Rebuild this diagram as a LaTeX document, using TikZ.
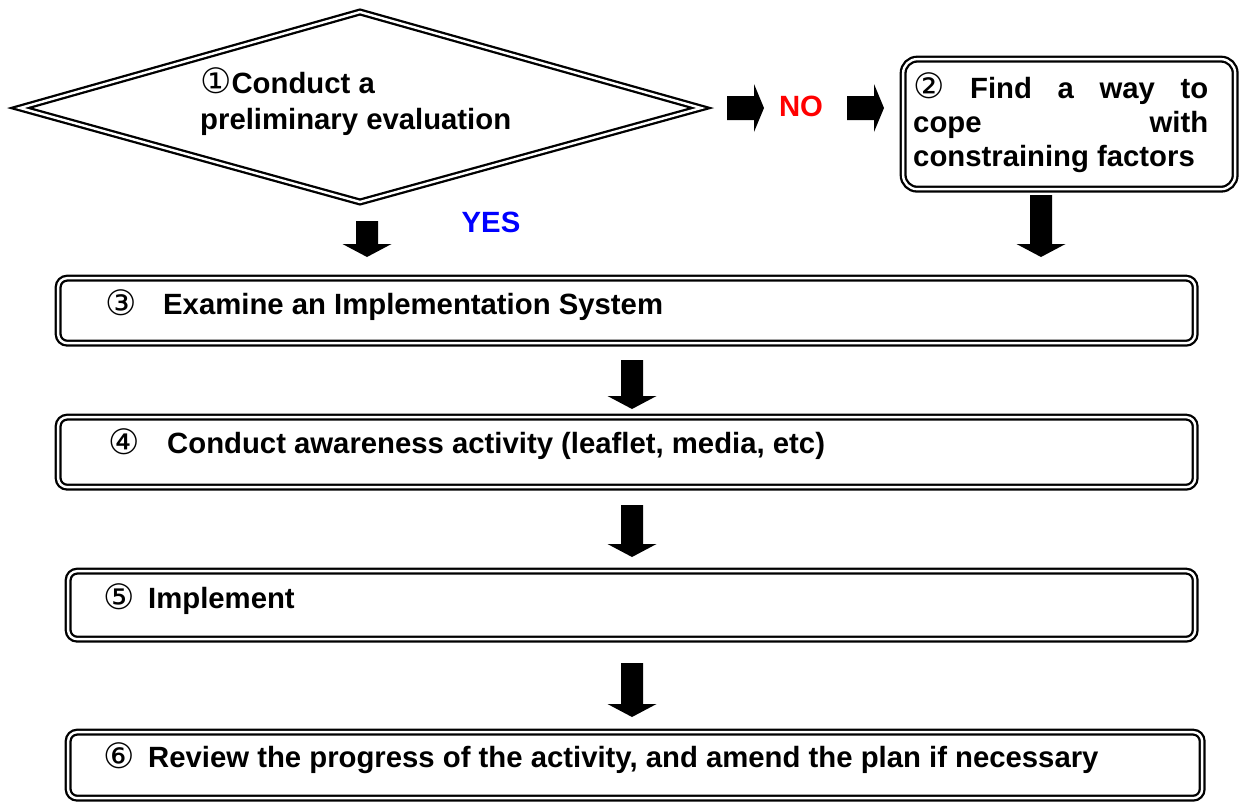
\documentclass[tikz,border=0pt]{standalone}
\usepackage{fontspec}
\setmainfont{Liberation Sans}
\newfontfamily\circfont{DejaVu Sans}
\newcommand\circnum[1]{{\circfont\mdseries\fontsize{35}{34}\selectfont #1}}
\begin{document}
\begin{tikzpicture}[x=1pt,y=-1pt,
  every node/.style={font=\fontsize{29.3}{34}\selectfont\bfseries},
  frame/.style={draw=black, double=white, line width=2.3pt, double distance=2.4pt, inner sep=0pt},
  stepbox/.style={frame, rounded corners=9pt, rectangle, anchor=north west},
  label/.style={anchor=base west, inner sep=0pt},
  pics/downblk/.style={code={%
    \fill[black] (-11,0) -- (11,0) -- (11,#1-13) -- (24.5,#1-13) -- (0,#1) -- (-24.5,#1-13) -- (-11,#1-13) -- cycle;}},
  pics/rightblk/.style={code={%
    \fill[black] (0,-12) -- (27,-12) -- (27,-24) -- (37,0) -- (27,24) -- (27,12) -- (0,12) -- cycle;}}
]
\useasboundingbox (0,0) rectangle (1240,803);

% decision diamond
\coordinate (dl) at (20,108);
\coordinate (dt) at (360,12);
\coordinate (dr) at (701,108);
\coordinate (db) at (360,202);
\draw[frame, miter limit=10] (dl) -- (dt) -- (dr) -- (db) -- cycle;
\node[label] (t1a) at (200,93) {\circnum{①}Conduct a};
\node[label] (t1b) at (200,129) {preliminary evaluation};

% NO branch
\pic at (727,108) {rightblk};
\node[text=red] (no) at (801,106) {NO};
\pic at (847,108) {rightblk};

% step 2 box
\node[stepbox, rounded corners=14pt, minimum width=332pt, minimum height=130pt] (s2) at (902,58) {};
\node[label] (t2a) at (913,98) {\makebox[295pt][s]{\circnum{②} Find a way to}};
\node[label] (t2b) at (913,132) {\makebox[295pt][s]{cope with}};
\node[label] (t2c) at (913,166) {constraining factors};

% YES branch
\node[text=blue] (yes) at (491,222) {YES};
\pic at (367,221) {downblk=36};
\pic at (1041,195) {downblk=62};

% main sequence of steps
\node[stepbox, minimum width=1137pt, minimum height=65pt] (s3) at (57,277) {};
\node[label] (n3) at (105,315) {\circnum{③}};
\node[label] (t3) at (163,314) {Examine an Implementation System};

\pic at (632,360) {downblk=49};

\node[stepbox, minimum width=1137pt, minimum height=70pt] (s4) at (57,416) {};
\node[label] (n4) at (108,454) {\circnum{④}};
\node[label] (t4) at (167,453) {Conduct awareness activity (leaflet, media, etc)};

\pic at (632,505) {downblk=52};

\node[stepbox, minimum width=1127pt, minimum height=68pt] (s5) at (67,570) {};
\node[label] (n5) at (103,609) {\circnum{⑤}};
\node[label] (t5) at (148,608) {Implement};

\pic at (632,663) {downblk=54};

\node[stepbox, minimum width=1134pt, minimum height=66pt] (s6) at (67,731) {};
\node[label] (n6) at (103,768) {\circnum{⑥}};
\node[label] (t6) at (148,767) {Review the progress of the activity, and amend the plan if necessary};
\end{tikzpicture}
\end{document}
